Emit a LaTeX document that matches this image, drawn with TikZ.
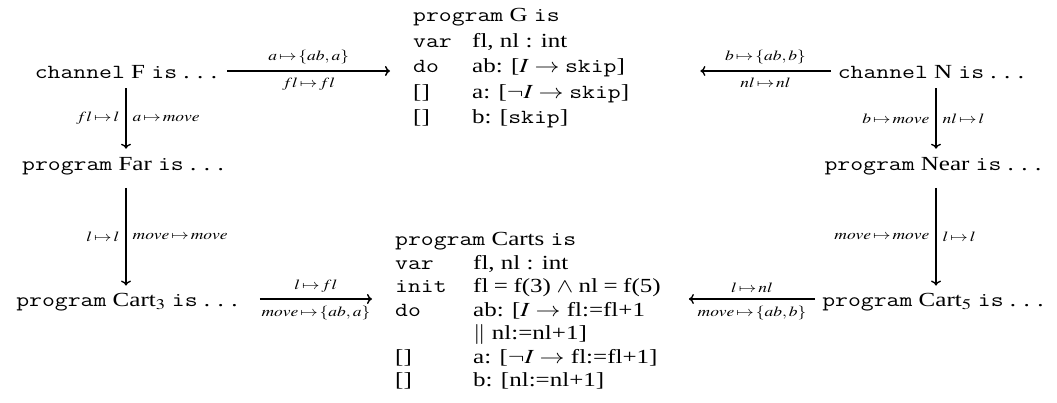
\documentclass[tikz,border=0pt]{standalone}
\usepackage{mathptmx}
\usepackage[no-math]{fontspec}
\setmainfont{Liberation Serif}
\usetikzlibrary{arrows.meta,calc}
\newcommand{\hstr}[1]{\scalebox{1.25}[1]{#1}}
\newcommand{\dts}{.\kern0.3em.\kern0.3em.}
\newcommand{\mt}{\!\mapsto\!}
\begin{document}
\begin{tikzpicture}[x=1pt,y=-1pt,
  txt/.style={inner sep=0pt, font=\fontsize{20}{23.5}\selectfont},
  lbl/.style={font=\fontsize{14}{16}\selectfont, inner sep=6pt},
  arr/.style={line width=1.4pt, -{To[length=5pt,width=10pt]}}]
\useasboundingbox (0,0) rectangle (1057,403);
% column coordinates for vertical arrows
\coordinate (Lcol) at (126,0);
\coordinate (Rcol) at (936,0);
% nodes
\node[txt, anchor=base] (F) at (126,79) {\hstr{\texttt{channel} F \texttt{is} \dts}};
\node[txt, anchor=base] (N) at (931,79) {\hstr{\texttt{channel} N \texttt{is} \dts}};
\node[txt, anchor=base] (Far) at (123,171) {\hstr{\texttt{program} Far \texttt{is} \dts}};
\node[txt, anchor=base] (Near) at (933,171) {\hstr{\texttt{program} Near \texttt{is} \dts}};
\node[txt, anchor=base] (C3) at (127,306) {\hstr{\texttt{program} Cart$_3$ \texttt{is} \dts}};
\node[txt, anchor=base] (C5) at (933,306) {\hstr{\texttt{program} Cart$_5$ \texttt{is} \dts}};
\node[txt, anchor=base west] (G) at (413,22) {\hstr{\renewcommand{\arraystretch}{1.085}%
  \begin{tabular}[t]{@{}p{47.2pt}@{}p{152pt}@{}}
  \multicolumn{2}{@{}l@{}}{\texttt{program} G \texttt{is}}\\
  \texttt{var} & fl, nl : int\\
  \texttt{do} & ab: [$I \to \mbox{\texttt{skip}}$]\\
  {[]} & a: [$\neg I \to \mbox{\texttt{skip}}$]\\
  {[]} & b: [\texttt{skip}]
  \end{tabular}}};
\node[txt, anchor=base west] (Carts) at (395,246) {\hstr{%
  \begin{tabular}[t]{@{}p{62.4pt}@{}p{150pt}@{}}
  \multicolumn{2}{@{}l@{}}{\texttt{program} Carts \texttt{is}}\\
  \texttt{var} & fl, nl : int\\
  \texttt{init} & fl = f(3) $\wedge$ nl = f(5)\\
  \texttt{do} & ab: [$I \to$ fl:=fl+1\\
   & $\|$ nl:=nl+1]\\
  {[]} & a: [$\neg I \to$ fl:=fl+1]\\
  {[]} & b: [nl:=nl+1]
  \end{tabular}}};
% horizontal connectors
\draw[arr] ($(F.base east)+(10,-8)$) -- node[lbl,above]{\hstr{$a\mt\{ab,a\}$}} node[lbl,below]{\hstr{$fl\mt fl$}} ($(G.west |- F.base)+(-23,-8)$);
\draw[arr] ($(N.base west)+(-7,-8)$) -- node[lbl,above]{\hstr{$b\mt\{ab,b\}$}} node[lbl,below]{\hstr{$nl\mt nl$}} ($(G.east |- N.base)+(38,-8)$);
\draw[arr] ($(C3.base east)+(22,-7)$) -- node[lbl,above]{\hstr{$l\mt fl$}} node[lbl,below]{\hstr{$move\mt\{ab,a\}$}} ($(Carts.west |- C3.base)+(-23,-7)$);
\draw[arr] ($(C5.base west)+(-7,-7)$) -- node[lbl,above]{\hstr{$l\mt nl$}} node[lbl,below]{\hstr{$move\mt\{ab,b\}$}} ($(Carts.east |- C5.base)+(28,-7)$);
% vertical connectors
\draw[arr] ($(F.south -| Lcol)+(0,9)$) -- node[lbl,left]{\hstr{$fl\mt l$}} node[lbl,right]{\hstr{$a\mt move$}} ($(Far.north -| Lcol)+(0,-9)$);
\draw[arr] ($(Far.south -| Lcol)+(0,12)$) -- node[lbl,left]{\hstr{$l\mt l$}} node[lbl,right]{\hstr{$move\mt move$}} ($(C3.north -| Lcol)+(0,-7)$);
\draw[arr] ($(N.south -| Rcol)+(0,9)$) -- node[lbl,left]{\hstr{$b\mt move$}} node[lbl,right]{\hstr{$nl\mt l$}} ($(Near.north -| Rcol)+(0,-9)$);
\draw[arr] ($(Near.south -| Rcol)+(0,12)$) -- node[lbl,left]{\hstr{$move\mt move$}} node[lbl,right]{\hstr{$l\mt l$}} ($(C5.north -| Rcol)+(0,-7)$);
\end{tikzpicture}
\end{document}
